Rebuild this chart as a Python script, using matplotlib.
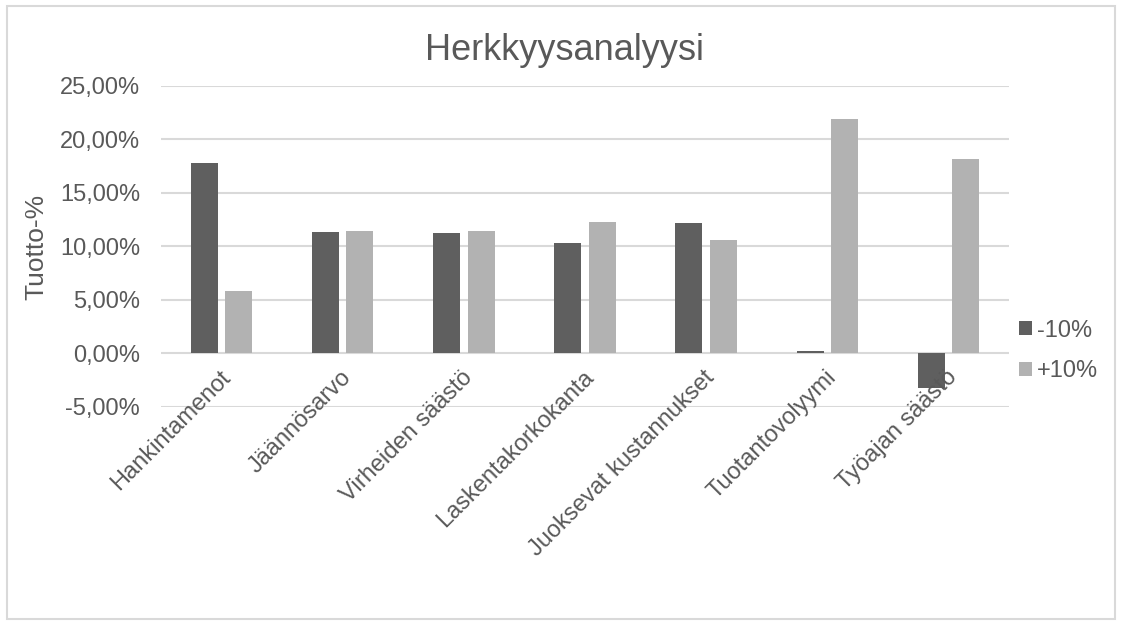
import numpy as np
import matplotlib
matplotlib.use("Agg")
from matplotlib import pyplot as plt
from matplotlib.patches import Rectangle
from matplotlib.ticker import FuncFormatter, MultipleLocator
from matplotlib.transforms import offset_copy

categories = ["Hankintamenot", "Jäännösarvo", "Virheiden säästö", "Laskentakorkokanta",
              "Juoksevat kustannukset", "Tuotantovolyymi", "Työajan säästö"]
minus10 = [17.8, 11.35, 11.3, 10.3, 12.15, 0.25, -3.2]
plus10 = [5.8, 11.45, 11.45, 12.3, 10.65, 21.95, 18.15]
series_names = ["-10%", "+10%"]

txt = "#595959"
dark = "#5f5f5f"
light = "#b2b2b2"
grid = "#d9d9d9"

plt.rcParams["font.family"] = ["Liberation Sans", "DejaVu Sans"]

fig = plt.figure(figsize=(11.22, 6.24), dpi=100)
ax = fig.add_axes([0.1435, 0.3478, 0.7558, 0.5144])

x = np.arange(len(categories))
w = 0.223
ax.bar(x - 0.142, minus10, w, color=dark, label=series_names[0], zorder=2)
ax.bar(x + 0.142, plus10, w, color=light, label=series_names[1], zorder=2)

ax.set_xlim(-0.5, len(categories) - 0.5)
ax.set_ylim(-5, 25)
ax.yaxis.set_major_locator(MultipleLocator(5))
ax.yaxis.set_major_formatter(FuncFormatter(lambda v, p: f"{v:.2f}%".replace(".", ",")))
ax.grid(axis="y", color=grid, linewidth=1.5, zorder=0)
ax.set_axisbelow(True)
for s in ax.spines.values():
    s.set_visible(False)
ax.tick_params(axis="y", length=0, pad=15, labelsize=17, labelcolor=txt)
ax.tick_params(axis="x", length=0, labelbottom=False)

# category labels hang from the zero line
lab_tr = offset_copy(ax.transData, fig=fig, x=0, y=-13, units="dots")
for i, c in enumerate(categories):
    ax.text(i - 0.02, 0, c, transform=lab_tr, rotation=45, rotation_mode="anchor",
            ha="right", va="top", fontsize=17, color=txt, zorder=5)

fig.text(0.032, 0.605, "Tuotto-%", rotation=90, ha="center", va="center",
         fontsize=19, color=txt)
fig.text(0.5027, 0.904, "Herkkyysanalyysi", ha="center", va="baseline",
         fontsize=26, color=txt)

ax.legend(loc="center left", bbox_to_anchor=(0.908, 0.4375), bbox_transform=fig.transFigure,
          frameon=False, fontsize=17, labelcolor=txt, handlelength=0.55, handleheight=0.55,
          handletextpad=0.22, labelspacing=0.8, borderaxespad=0, borderpad=0)

fig.patches.append(Rectangle((0.0065, 0.008), 0.987, 0.982, transform=fig.transFigure,
                             fill=False, edgecolor=grid, linewidth=1.5))

fig.savefig("out.png", dpi=100)
